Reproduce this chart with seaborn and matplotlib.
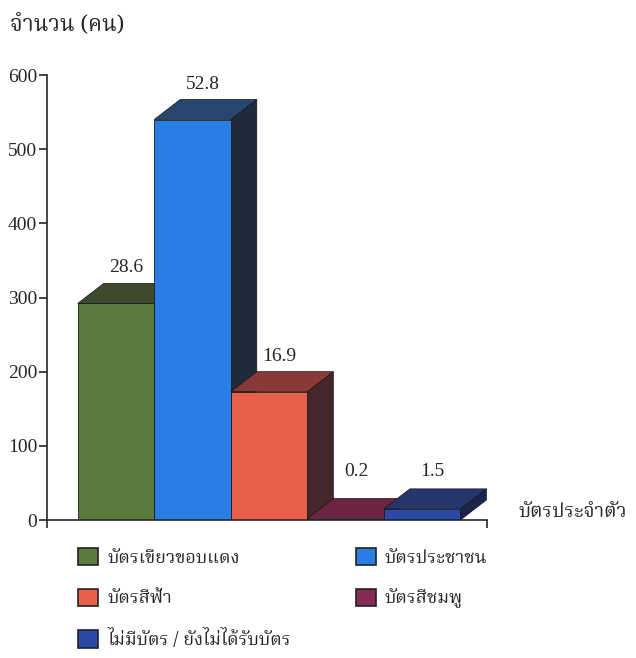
import numpy as np
import pandas as pd
import matplotlib
matplotlib.use("Agg")
import matplotlib.pyplot as plt
import seaborn as sns
from matplotlib import font_manager
from matplotlib.ft2font import FT2Font
from matplotlib.patches import Polygon, Patch

# data
cards = ['บัตรเขียวขอบแดง', 'บัตรประชาชน', 'บัตรสีฟ้า', 'บัตรสีชมพู', 'ไม่มีบัตร / ยังไม่ได้รับบัตร']
counts = [292, 540, 173, 2, 15]
percents = ['28.6', '52.8', '16.9', '0.2', '1.5']

front_colors = ['#5a7b3b', '#2a7de2', '#e8604a', '#862b55', '#2b49a8']
top_colors = ['#3d4a2c', '#27476e', '#8a3a36', '#6c2442', '#26356c']
side_colors = ['#27301f', '#1f2b3d', '#45262a', '#3e1a2a', '#1c2448']

# find fonts that have Thai glyphs, prefer looped serif ones
thai_fonts = []
for f in font_manager.fontManager.ttflist:
    try:
        if FT2Font(f.fname).get_char_index(0x0E01):
            thai_fonts.append(f.name)
    except Exception:
        pass
thai_font = None
for name in ['Noto Serif Thai', 'Norasi', 'Kinnari', 'Garuda', 'Loma',
             'Noto Sans Thai Looped', 'Noto Sans Thai']:
    if name in thai_fonts:
        thai_font = name
        break
if thai_font is None and thai_fonts:
    thai_font = thai_fonts[0]
thai_family = [thai_font, 'DejaVu Sans'] if thai_font else ['DejaVu Sans']

sns.set_style('white')
plt.rcParams['font.family'] = ['Liberation Serif', 'DejaVu Serif']

df = pd.DataFrame({'card': cards, 'count': counts})

fig = plt.figure(figsize=(6.36, 6.58), dpi=100)
ax = fig.add_axes([0.074, 0.2097, 0.692, 0.6763])

sns.barplot(data=df, x='card', y='count', hue='card', palette=front_colors,
            saturation=1, width=1.0, edgecolor='#1a1a1a', linewidth=0.6,
            legend=False, ax=ax)

ax.set_xlim(-0.9, 4.85)
ax.set_ylim(0, 600)

# depth of the 3D effect in data units (about 26 px right, 20 px up)
dx = 0.34
dy = 27

for i, bar in enumerate(ax.patches):
    x0 = bar.get_x()
    x1 = x0 + bar.get_width()
    h = bar.get_height()
    z = 2 + i * 3
    side = Polygon([(x1, 0), (x1 + dx, dy), (x1 + dx, h + dy), (x1, h)],
                   closed=True, facecolor=side_colors[i], edgecolor='#151515',
                   linewidth=0.5, zorder=z)
    top = Polygon([(x0, h), (x1, h), (x1 + dx, h + dy), (x0 + dx, h + dy)],
                  closed=True, facecolor=top_colors[i], edgecolor='#151515',
                  linewidth=0.5, zorder=z + 1)
    ax.add_patch(side)
    ax.add_patch(top)
    bar.set_zorder(z + 2)
    ty = max(h + dy, 45)
    ax.annotate(percents[i], (x0 + 0.5 + dx * 0.4, ty), xytext=(0, 5),
                textcoords='offset points', ha='center', va='bottom',
                fontsize=14, zorder=30, annotation_clip=False)

sns.despine(ax=ax)
ax.spines['left'].set_linewidth(1.2)
ax.spines['bottom'].set_linewidth(1.2)
ax.spines['left'].set_zorder(40)
ax.spines['bottom'].set_zorder(40)
ax.set_yticks(range(0, 601, 100))
ax.tick_params(axis='y', direction='out', length=6, width=1.2, labelsize=14,
               left=True, pad=1)
ax.set_xticks([-0.9, 4.85])
ax.set_xticklabels(['', ''])
ax.tick_params(axis='x', direction='out', length=6, width=1.2, bottom=True)
ax.set_xlabel('')
ax.set_ylabel('')

fig.text(0.015, 0.962, 'จำนวน (คน)', fontsize=16, family=thai_family,
         weight='bold', ha='left', va='center')
fig.text(0.815, 0.222, 'บัตรประจำตัว', fontsize=14, family=thai_family,
         weight='bold', ha='left', va='center')

order = [0, 2, 4, 1, 3]
handles = [Patch(facecolor=front_colors[i], edgecolor='#222222', linewidth=1.2)
           for i in order]
labels = [cards[i] for i in order]
fig.legend(handles, labels, loc='upper left', bbox_to_anchor=(0.112, 0.178),
           ncol=2, frameon=False,
           prop={'family': thai_family, 'size': 13, 'weight': 'bold'},
           handlelength=1.1, handleheight=1.1, handletextpad=0.5,
           columnspacing=3.6, labelspacing=1.2, borderaxespad=0)

fig.savefig('out.png', dpi=100)
